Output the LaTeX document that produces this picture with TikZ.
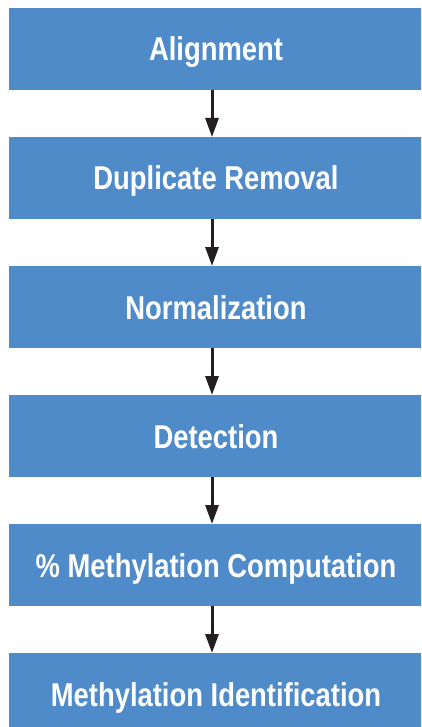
\documentclass[tikz,border=0pt]{standalone}
\usepackage{fontspec}
\setmainfont[FakeStretch=0.83]{Liberation Sans}
\usetikzlibrary{positioning, arrows.meta}
\definecolor{boxblue}{RGB}{79, 139, 201}
\definecolor{arrowgray}{RGB}{35, 31, 32}
\newcommand\wbx{414pt}
\newcommand\hbx{82pt}
\newcommand\gapbx{47pt}

\begin{document}
\begin{tikzpicture}[x=1pt, y=1pt,
    stepbox/.style={fill=boxblue, text=white, font=\bfseries\fontsize{33}{36}\selectfont,
        minimum width=\wbx, minimum height=\hbx, inner sep=0pt, outer sep=0pt,
        text height=24pt, text depth=0pt},
    flow/.style={draw=arrowgray, line width=3pt, -{Triangle[width=13pt, length=19pt]}}]
    \clip (0,0) rectangle (421,-727);

    \node (1) [stepbox, anchor=north west] at (9,-8) {Alignment};
    \node (2) [stepbox, below=\gapbx of 1] {Duplicate Removal};
    \node (3) [stepbox, below=\gapbx of 2] {Normalization};
    \node (4) [stepbox, below=\gapbx of 3] {Detection};
    \node (5) [stepbox, below=\gapbx of 4] {\% Methylation Computation};
    \node (6) [stepbox, below=\gapbx of 5] {Methylation Identification};

    \draw[flow] ([xshift=-4pt]1.south) -- ([xshift=-4pt]2.north);
    \draw[flow] ([xshift=-4pt]2.south) -- ([xshift=-4pt]3.north);
    \draw[flow] ([xshift=-4pt]3.south) -- ([xshift=-4pt]4.north);
    \draw[flow] ([xshift=-4pt]4.south) -- ([xshift=-4pt]5.north);
    \draw[flow] ([xshift=-4pt]5.south) -- ([xshift=-4pt]6.north);

\end{tikzpicture}
\end{document}
